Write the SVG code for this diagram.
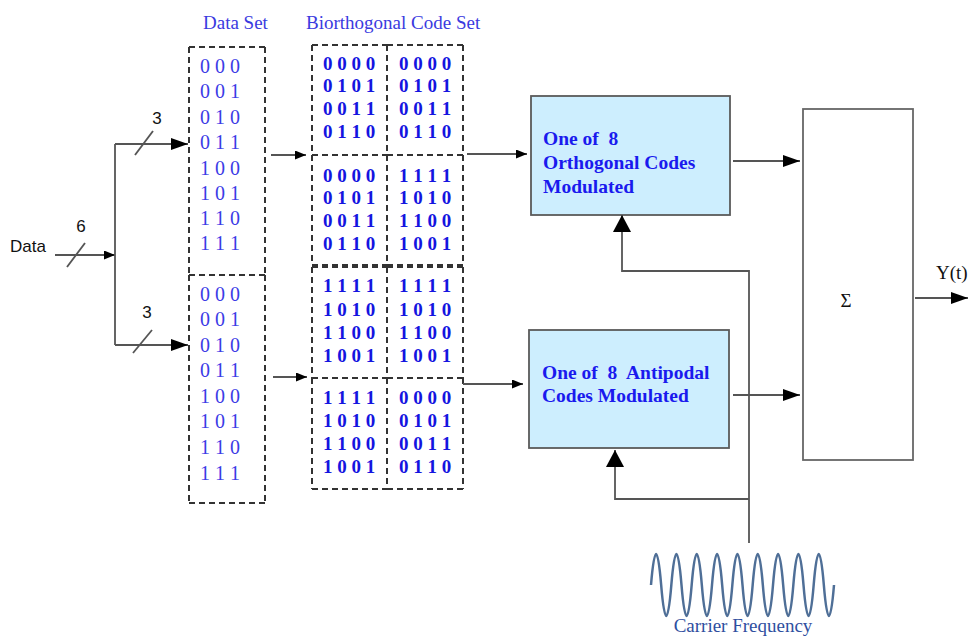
<svg xmlns="http://www.w3.org/2000/svg" width="969" height="638" viewBox="0 0 969 638">
<style>
.dash{fill:none;stroke:#333;stroke-width:2;stroke-dasharray:6 4}
.ln{fill:none;stroke:#555;stroke-width:1.8}
.hdr{font-family:"Liberation Serif",serif;font-size:19px;fill:#3a3ae0}
.ds{font-family:"Liberation Serif",serif;font-size:20px;fill:#3c3ce6}
.cs{font-family:"Liberation Serif",serif;font-size:19px;font-weight:bold;fill:#1414e0}
.mod{fill:#cdeefe;stroke:#5a5a5a;stroke-width:1.8}
.mt{font-family:"Liberation Serif",serif;font-size:19.5px;font-weight:bold;fill:#1a1aee;white-space:pre}
.lbl{font-family:"Liberation Sans",sans-serif;font-size:17px;fill:#111}
.ser{font-family:"Liberation Serif",serif;font-size:19px;fill:#111}
</style>
<defs>
<marker id="a" markerUnits="userSpaceOnUse" markerWidth="11" markerHeight="9" refX="11" refY="4.5" orient="auto"><path d="M0,0 L11,4.5 L0,9 z" fill="#000"/></marker>
<marker id="b" markerUnits="userSpaceOnUse" markerWidth="17" markerHeight="12" refX="17" refY="6" orient="auto"><path d="M0,0 L17,6 L0,12 z" fill="#000"/></marker>
<marker id="c" markerUnits="userSpaceOnUse" markerWidth="17" markerHeight="18" refX="17" refY="9" orient="auto"><path d="M0,0 L17,9 L0,18 z" fill="#000"/></marker>
</defs>
<rect width="969" height="638" fill="#fff"/>

<g id="headers">
<text class="hdr" x="203" y="29">Data Set</text>
<text class="hdr" x="306" y="29">Biorthogonal Code Set</text>
</g>

<g id="dataset-top">
<path class="dash" d="M189,47 H265 M189,275 H265 M189,47 V275 M265,47 V275"/>
<text class="ds" x="200" y="73">0 0 0</text>
<text class="ds" x="200" y="98">0 0 1</text>
<text class="ds" x="200" y="124">0 1 0</text>
<text class="ds" x="200" y="149">0 1 1</text>
<text class="ds" x="200" y="175">1 0 0</text>
<text class="ds" x="200" y="200">1 0 1</text>
<text class="ds" x="200" y="225">1 1 0</text>
<text class="ds" x="200" y="250">1 1 1</text>
</g>
<g id="dataset-bottom">
<path class="dash" d="M189,275 H265 M189,503 H265 M189,275 V503 M265,275 V503"/>
<text class="ds" x="200" y="301">0 0 0</text>
<text class="ds" x="200" y="326">0 0 1</text>
<text class="ds" x="200" y="352">0 1 0</text>
<text class="ds" x="200" y="377">0 1 1</text>
<text class="ds" x="200" y="403">1 0 0</text>
<text class="ds" x="200" y="428">1 0 1</text>
<text class="ds" x="200" y="454">1 1 0</text>
<text class="ds" x="200" y="480">1 1 1</text>
</g>

<g id="code-1a">
<path class="dash" d="M312,45 H387 M312,155 H387 M312,45 V155 M387,45 V155"/>
<text class="cs" x="323" y="70">0 0 0 0</text>
<text class="cs" x="323" y="92">0 1 0 1</text>
<text class="cs" x="323" y="115">0 0 1 1</text>
<text class="cs" x="323" y="138">0 1 1 0</text>
</g>
<g id="code-1b">
<path class="dash" d="M387,45 H463 M387,155 H463 M387,45 V155 M463,45 V155"/>
<text class="cs" x="399" y="70">0 0 0 0</text>
<text class="cs" x="399" y="92">0 1 0 1</text>
<text class="cs" x="399" y="115">0 0 1 1</text>
<text class="cs" x="399" y="138">0 1 1 0</text>
</g>
<g id="code-2a">
<path class="dash" d="M312,155 H387 M312,265 H387 M312,155 V265 M387,155 V265"/>
<text class="cs" x="323" y="182">0 0 0 0</text>
<text class="cs" x="323" y="204">0 1 0 1</text>
<text class="cs" x="323" y="227">0 0 1 1</text>
<text class="cs" x="323" y="250">0 1 1 0</text>
</g>
<g id="code-2b">
<path class="dash" d="M387,155 H463 M387,265 H463 M387,155 V265 M463,155 V265"/>
<text class="cs" x="399" y="182">1 1 1 1</text>
<text class="cs" x="399" y="204">1 0 1 0</text>
<text class="cs" x="399" y="227">1 1 0 0</text>
<text class="cs" x="399" y="250">1 0 0 1</text>
</g>
<g id="code-3a">
<path class="dash" d="M312,267 H387 M312,378 H387 M312,267 V378 M387,267 V378"/>
<text class="cs" x="323" y="292">1 1 1 1</text>
<text class="cs" x="323" y="316">1 0 1 0</text>
<text class="cs" x="323" y="339">1 1 0 0</text>
<text class="cs" x="323" y="362">1 0 0 1</text>
</g>
<g id="code-3b">
<path class="dash" d="M387,267 H463 M387,378 H463 M387,267 V378 M463,267 V378"/>
<text class="cs" x="399" y="292">1 1 1 1</text>
<text class="cs" x="399" y="316">1 0 1 0</text>
<text class="cs" x="399" y="339">1 1 0 0</text>
<text class="cs" x="399" y="362">1 0 0 1</text>
</g>
<g id="code-4a">
<path class="dash" d="M312,378 H387 M312,489 H387 M312,378 V489 M387,378 V489"/>
<text class="cs" x="323" y="404">1 1 1 1</text>
<text class="cs" x="323" y="427">1 0 1 0</text>
<text class="cs" x="323" y="450">1 1 0 0</text>
<text class="cs" x="323" y="473">1 0 0 1</text>
</g>
<g id="code-4b">
<path class="dash" d="M387,378 H463 M387,489 H463 M387,378 V489 M463,378 V489"/>
<text class="cs" x="399" y="404">0 0 0 0</text>
<text class="cs" x="399" y="427">0 1 0 1</text>
<text class="cs" x="399" y="450">0 0 1 1</text>
<text class="cs" x="399" y="473">0 1 1 0</text>
</g>

<g id="orthogonal">
<rect class="mod" x="531" y="96" width="199" height="119"/>
<text class="mt" x="543" y="145">One of  8</text>
<text class="mt" x="543" y="169">Orthogonal Codes</text>
<text class="mt" x="543" y="193">Modulated</text>
</g>
<g id="antipodal">
<rect class="mod" x="529" y="330" width="200" height="118"/>
<text class="mt" x="542" y="379">One of  8  Antipodal</text>
<text class="mt" x="542" y="402">Codes Modulated</text>
</g>

<g id="sum">
<rect x="803" y="109" width="110" height="351" fill="#fff" stroke="#666" stroke-width="1.8"/>
<text class="ser" x="846" y="307" text-anchor="middle" font-size="18">Σ</text>
</g>

<g id="carrier">
<path d="M651,585 q5.083,-62 10.167,0 t10.167,0 t10.167,0 t10.167,0 t10.167,0 t10.167,0 t10.167,0 t10.167,0 t10.167,0 t10.167,0 t10.167,0 t10.167,0 t10.167,0 t10.167,0 t10.167,0 t10.167,0 t10.167,0 t10.167,0" fill="none" stroke="#4f6f97" stroke-width="2.5"/>
<text x="743" y="632" text-anchor="middle" font-family="Liberation Serif, serif" font-size="19" fill="#2f4f9f">Carrier Frequency</text>
</g>

<g id="labels">
<text class="lbl" x="10" y="252" font-size="18">Data</text>
<text class="lbl" x="81" y="232" text-anchor="middle">6</text>
<text class="lbl" x="157" y="124" text-anchor="middle">3</text>
<text class="lbl" x="147" y="318" text-anchor="middle">3</text>
<text class="ser" x="936" y="279" font-size="18">Y(t)</text>
</g>

<g id="connectors">
<path class="ln" d="M55,255 H115" marker-end="url(#a)"/>
<path class="ln" d="M67,267 L85,243"/>
<path class="ln" d="M115,144 V345"/>
<path class="ln" d="M115,144 H188" marker-end="url(#b)"/>
<path class="ln" d="M135,155 L153,131"/>
<path class="ln" d="M115,345 H188" marker-end="url(#b)"/>
<path class="ln" d="M133,353 L152,330"/>
<path class="ln" d="M271,155 H306" marker-end="url(#a)"/>
<path class="ln" d="M273,377 H307" marker-end="url(#a)"/>
<path class="ln" d="M467,154 H527" marker-end="url(#a)"/>
<path class="ln" d="M463,384 H523" marker-end="url(#a)"/>
<path class="ln" d="M733,161 H800" marker-end="url(#b)"/>
<path class="ln" d="M733,395 H800" marker-end="url(#b)"/>
<path class="ln" d="M915,298 H968" marker-end="url(#b)"/>
<path class="ln" d="M749,543 V271 H622 V215" marker-end="url(#c)"/>
<path class="ln" d="M749,499 H615 V450" marker-end="url(#c)"/>
</g>
</svg>
